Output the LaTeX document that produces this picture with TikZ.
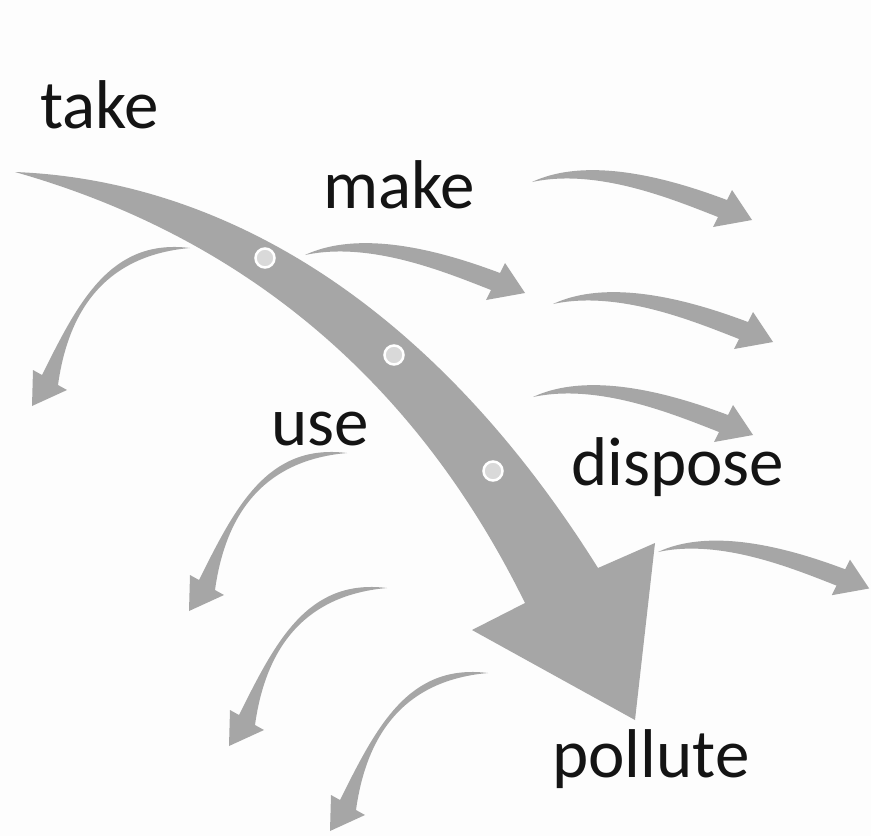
\documentclass[tikz,border=0pt]{standalone}
\usepackage{fontspec}
\setmainfont{Carlito}
\definecolor{flowgray}{RGB}{166,166,166}
\definecolor{beadgray}{RGB}{217,217,217}
\definecolor{paper}{RGB}{253,253,253}
\tikzset{
  flow/.style={fill=flowgray},
  stage/.style={font=\fontsize{69}{74}\selectfont, text=black!92, inner sep=0pt, anchor=base west},
  bead/.style={circle, fill=beadgray, draw=white, line width=2.5pt, minimum size=19pt, inner sep=0pt},
  % small arrow bending to the right, tail at the origin
  flowR/.pic={
    \fill[flow] (0,0) .. controls (60,-28) and (147,0) .. (195,18) -- (200,8) -- (220,38)
      -- (181,45) -- (186,35) .. controls (140,17) and (65,-14) .. cycle;
  },
  % small arrow bending down to the left, tail at the origin
  flowL/.pic={
    \fill[flow] (0,0) .. controls (-80,-10) and (-112,55) .. (-148,127) -- (-157,122) -- (-158,158)
      -- (-123,142) -- (-132,137) .. controls (-123,72) and (-92,8) .. cycle;
  }
}
\begin{document}
\begin{tikzpicture}[x=1pt,y=-1pt]
  \path[use as bounding box, fill=paper] (0,0) rectangle (871,836);
  \clip (0,0) rectangle (871,836);

  % main flow
  \fill[flow] (15,172) .. controls (220,180) and (430,300) .. (598,568) -- (655,543) -- (635,720)
    -- (472,630) -- (525,603) .. controls (440,430) and (290,250) .. cycle;
  \node[bead] (bead1) at (265,258) {};
  \node[bead] (bead2) at (394,355) {};
  \node[bead] (bead3) at (493,471) {};

  % side flows
  \pic (right1) at (532,182) {flowR};
  \pic (right2) at (305,255) {flowR};
  \pic (right3) at (553,304) {flowR};
  \pic (right4) at (533,397) {flowR};
  \pic[scale=0.96] (right5) at (658,552) {flowR};
  \pic (left1) at (190,248) {flowL};
  \pic (left2) at (347,453) {flowL};
  \pic (left3) at (387,588) {flowL};
  \pic (left4) at (488,673) {flowL};

  % stages
  \node[stage] (take) at (40,128) {take};
  \node[stage] (make) at (323,208) {make};
  \node[stage] (use) at (271,445) {use};
  \node[stage] (dispose) at (571,485) {dispose};
  \node[stage] (pollute) at (552,777) {pollute};
\end{tikzpicture}
\end{document}
